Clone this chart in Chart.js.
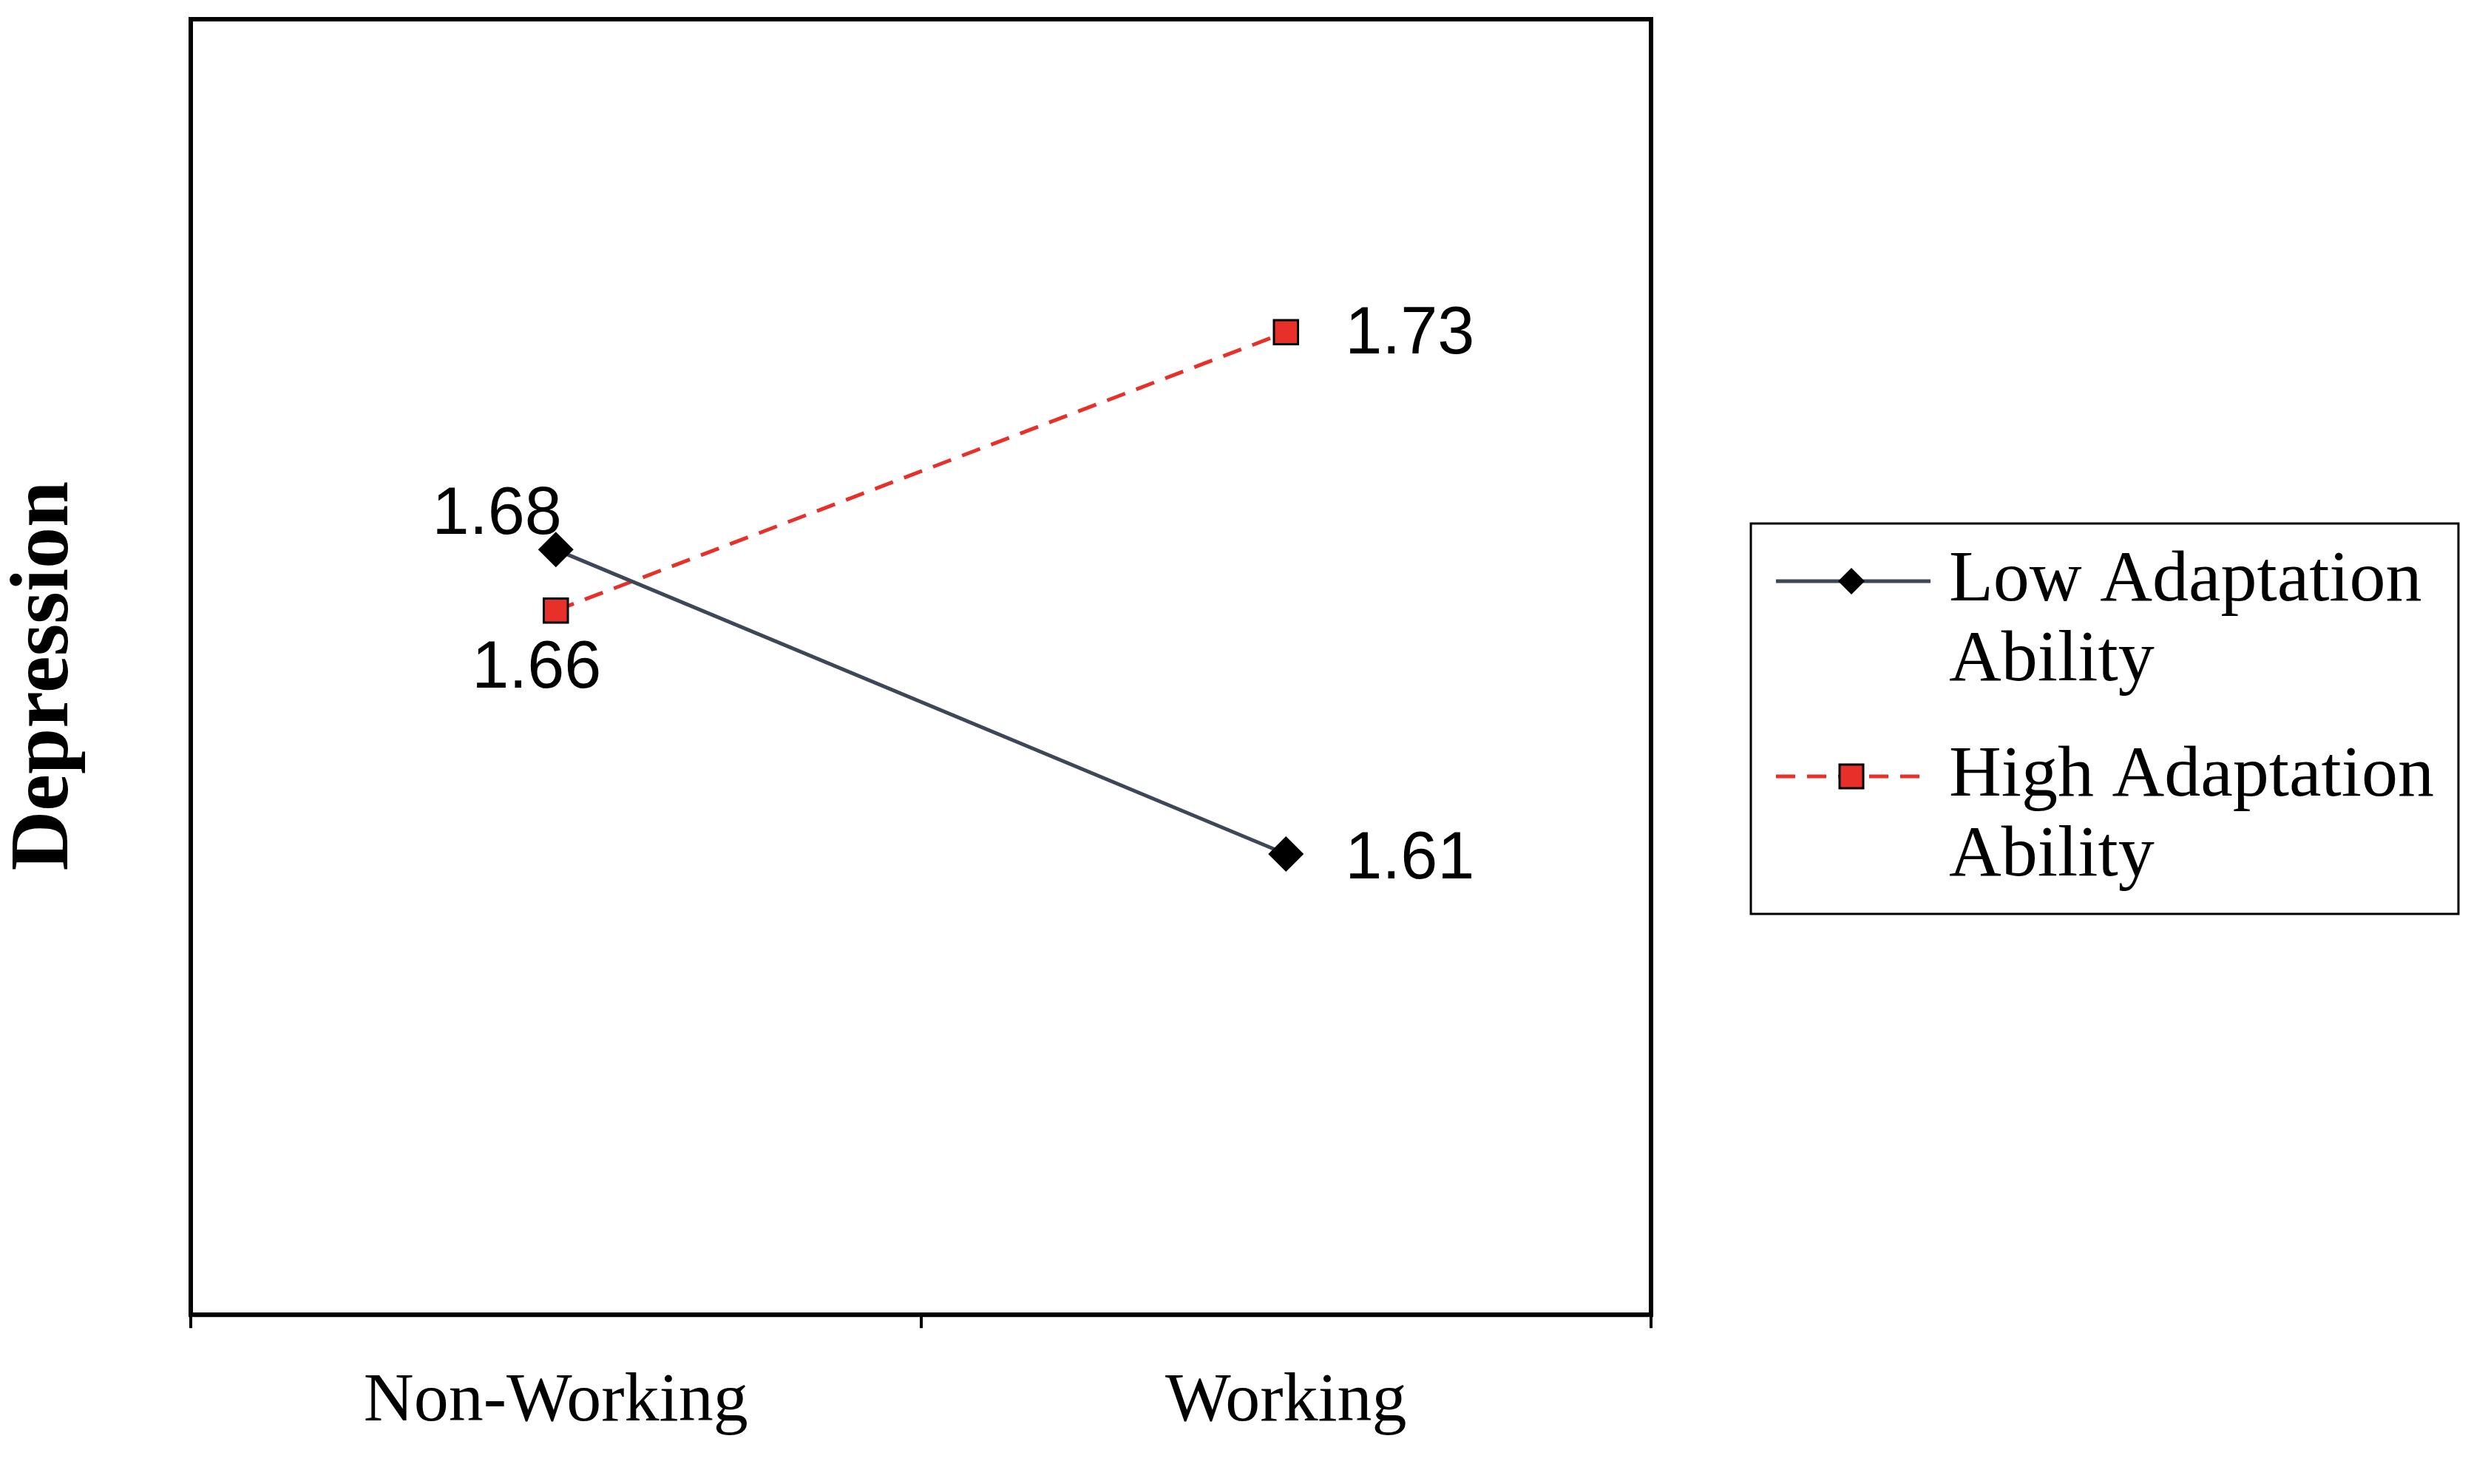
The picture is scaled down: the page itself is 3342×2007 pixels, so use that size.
<!DOCTYPE html>
<html><head><meta charset="utf-8">
<script src="https://cdn.jsdelivr.net/npm/chart.js@4"></script>
<style>html,body{margin:0;padding:0;background:#fff}#w{width:3342px;height:2007px}</style>
</head><body><div id="w"><canvas id="c"></canvas></div>
<script>
const categories = ["Non-Working", "Working"];
const lowValues = [1.68, 1.61];
const highValues = [1.666, 1.73];
const seriesNames = [["Low Adaptation", "Ability"], ["High Adaptation", "Ability"]];
const yTitle = "Depression";

const serif = '"Liberation Serif", "Times New Roman", serif';
const sans = '"Liberation Sans", Arial, sans-serif';
const fmt = v => (Math.floor(v * 100 + 1e-6) / 100).toFixed(2);

const deco = {
  id: 'deco',
  afterDatasetsDraw(chart) {
    const ctx = chart.ctx, a = chart.chartArea;
    ctx.save();
    ctx.strokeStyle = '#000'; ctx.lineWidth = 6;
    ctx.strokeRect(a.left, a.top, a.right - a.left, a.bottom - a.top);
    ctx.save();
    ctx.translate(62, (a.top + a.bottom) / 2 + 12);
    ctx.rotate(-Math.PI / 2);
    ctx.font = 'bold 112px ' + serif; ctx.fillStyle = '#000';
    ctx.textAlign = 'center'; ctx.textBaseline = 'middle';
    ctx.fillText(yTitle, 0, 0);
    ctx.restore();
    ctx.font = '90px ' + sans; ctx.fillStyle = '#000'; ctx.textBaseline = 'middle';
    const m0 = chart.getDatasetMeta(0).data, m1 = chart.getDatasetMeta(1).data;
    ctx.textAlign = 'right';
    ctx.fillText(fmt(lowValues[0]), m0[0].x + 8, m0[0].y - 46);
    ctx.textAlign = 'center';
    ctx.fillText(fmt(highValues[0]), m1[0].x - 26, m1[0].y + 80);
    ctx.textAlign = 'left';
    ctx.fillText(fmt(lowValues[1]), m0[1].x + 80, m0[1].y + 8);
    ctx.fillText(fmt(highValues[1]), m1[1].x + 80, m1[1].y + 4);
    const lx = 2368, ly = 708, lw = 957, lh = 528;
    ctx.lineWidth = 3; ctx.strokeStyle = '#000';
    ctx.strokeRect(lx, ly, lw, lh);
    ctx.font = '98px ' + serif; ctx.textAlign = 'left';
    const rows = [ly + 78, ly + 342];
    for (let i = 0; i < 2; i++) {
      const y = rows[i];
      ctx.beginPath();
      if (i === 0) { ctx.lineWidth = 5; ctx.strokeStyle = '#3d4757'; ctx.setLineDash([]); }
      else { ctx.lineWidth = 5; ctx.strokeStyle = '#e8302a'; ctx.setLineDash([26, 16]); }
      ctx.moveTo(lx + 34, y); ctx.lineTo(lx + 243, y); ctx.stroke();
      ctx.setLineDash([]);
      const cx = lx + 136;
      if (i === 0) {
        ctx.fillStyle = '#000'; ctx.beginPath();
        ctx.moveTo(cx - 18, y); ctx.lineTo(cx, y - 18); ctx.lineTo(cx + 18, y); ctx.lineTo(cx, y + 18); ctx.closePath(); ctx.fill();
      } else {
        ctx.fillStyle = '#e8302a'; ctx.fillRect(cx - 16, y - 16, 32, 32);
        ctx.lineWidth = 3; ctx.strokeStyle = '#000'; ctx.strokeRect(cx - 16, y - 16, 32, 32);
      }
      ctx.fillStyle = '#000';
      ctx.fillText(seriesNames[i][0], lx + 268, y);
      ctx.fillText(seriesNames[i][1], lx + 268, y + 108);
    }
    ctx.restore();
  }
};

new Chart(document.getElementById('c'), {
  type: 'line',
  data: {
    labels: categories,
    datasets: [
      { label: seriesNames[0].join(' '), data: lowValues, borderColor: '#3d4757', borderWidth: 5,
        pointStyle: 'rectRot', pointRadius: 24, pointBackgroundColor: '#000', pointBorderColor: '#000', pointBorderWidth: 0 },
      { label: seriesNames[1].join(' '), data: highValues, borderColor: '#e8302a', borderWidth: 5, borderDash: [26, 16],
        pointStyle: 'rect', pointRadius: 23, pointBackgroundColor: '#e8302a', pointBorderColor: '#000', pointBorderWidth: 3 }
    ]
  },
  options: {
    responsive: true, maintainAspectRatio: false, animation: false,
    layout: { padding: { left: 258, right: 1109, top: 26, bottom: 10 } },
    plugins: { legend: { display: false }, tooltip: { enabled: false } },
    scales: {
      x: { offset: true,
        grid: { offset: true, drawOnChartArea: false, drawTicks: true, tickLength: 18, color: '#000', lineWidth: 4 },
        border: { display: true, color: '#000', width: 6 },
        ticks: { color: '#000', font: { family: serif, size: 94 }, padding: 44 } },
      y: { display: false, min: 1.504, max: 1.802 }
    }
  },
  plugins: [deco]
});
</script></body></html>
